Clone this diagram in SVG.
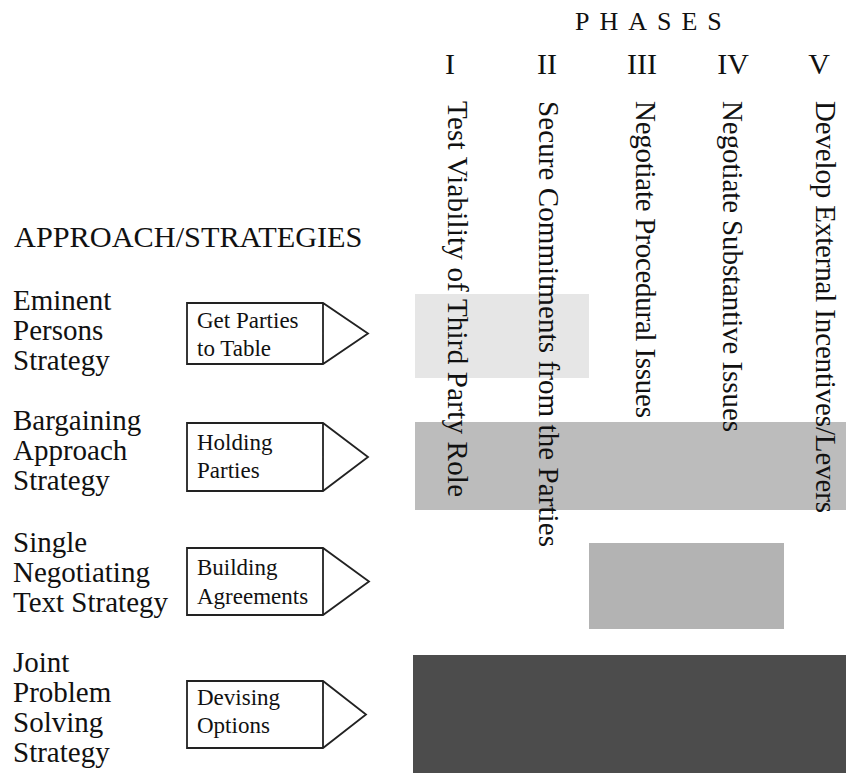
<svg xmlns="http://www.w3.org/2000/svg" width="846" height="773" viewBox="0 0 846 773">
<style>
  text { font-family: "Liberation Serif", "Times New Roman", serif; fill: #111; }
  .title { font-size: 26px; letter-spacing: 10px; }
  .num { font-size: 30px; text-anchor: middle; }
  .head { font-size: 30.3px; }
  .lbl { font-size: 29px; }
  .box { font-size: 23px; }
  .phase { font-size: 29px; }
  .arrow { fill: #fff; stroke: #222; stroke-width: 1.8; stroke-linejoin: miter; }
</style>
<rect width="846" height="773" fill="#fff"/>

<g id="bars">
  <rect id="bar-eminent" x="415" y="294" width="174" height="84" fill="#e6e6e6"/>
  <rect id="bar-bargaining" x="415" y="422" width="431" height="88" fill="#bcbcbc"/>
  <rect id="bar-single" x="589" y="543" width="195" height="86" fill="#b3b3b3"/>
  <rect id="bar-joint" x="413" y="655" width="433" height="118" fill="#4c4c4c"/>
</g>

<g id="phases-header">
  <text class="title" x="575" y="30">PHASES</text>
</g>

<g id="phase-I">
  <text class="num" x="450" y="74">I</text>
  <text class="phase" transform="translate(448,101) rotate(90)" textLength="396" lengthAdjust="spacing">Test Viability of Third Party Role</text>
</g>
<g id="phase-II">
  <text class="num" x="547" y="74">II</text>
  <text class="phase" transform="translate(539,101) rotate(90)" textLength="446" lengthAdjust="spacing">Secure Commitments from the Parties</text>
</g>
<g id="phase-III">
  <text class="num" x="642" y="74">III</text>
  <text class="phase" transform="translate(636,101) rotate(90)" textLength="317" lengthAdjust="spacing">Negotiate Procedural Issues</text>
</g>
<g id="phase-IV">
  <text class="num" x="733" y="74">IV</text>
  <text class="phase" transform="translate(723,101) rotate(90)" textLength="331" lengthAdjust="spacing">Negotiate Substantive Issues</text>
</g>
<g id="phase-V">
  <text class="num" x="819" y="74">V</text>
  <text class="phase" transform="translate(816,101) rotate(90)" textLength="412" lengthAdjust="spacing">Develop External Incentives/Levers</text>
</g>

<g id="approach-header">
  <text class="head" x="14" y="247">APPROACH/STRATEGIES</text>
</g>

<g id="strategy-eminent">
  <text class="lbl" x="13" y="310">Eminent</text>
  <text class="lbl" x="13" y="340">Persons</text>
  <text class="lbl" x="13" y="370">Strategy</text>
  <path class="arrow" d="M187,303 H323 L368,333.5 L323,364 H187 Z M323,303 V364"/>
  <text class="box" x="197" y="328">Get Parties</text>
  <text class="box" x="197" y="356">to Table</text>
</g>

<g id="strategy-bargaining">
  <text class="lbl" x="13" y="430">Bargaining</text>
  <text class="lbl" x="13" y="460">Approach</text>
  <text class="lbl" x="13" y="490">Strategy</text>
  <path class="arrow" d="M187,423 H323 L368,457 L323,491 H187 Z M323,423 V491"/>
  <text class="box" x="197" y="450">Holding</text>
  <text class="box" x="197" y="478">Parties</text>
</g>

<g id="strategy-single">
  <text class="lbl" x="13" y="552">Single</text>
  <text class="lbl" x="13" y="582">Negotiating</text>
  <text class="lbl" x="13" y="612">Text Strategy</text>
  <path class="arrow" d="M187,548 H323 L369,581.5 L323,615 H187 Z M323,548 V615"/>
  <text class="box" x="197" y="575">Building</text>
  <text class="box" x="197" y="604">Agreements</text>
</g>

<g id="strategy-joint">
  <text class="lbl" x="13" y="672">Joint</text>
  <text class="lbl" x="13" y="702">Problem</text>
  <text class="lbl" x="13" y="732">Solving</text>
  <text class="lbl" x="13" y="762">Strategy</text>
  <path class="arrow" d="M187,681 H323 L366,714.5 L323,748 H187 Z M323,681 V748"/>
  <text class="box" x="197" y="705">Devising</text>
  <text class="box" x="197" y="733">Options</text>
</g>

<g id="connectors"></g>
</svg>
